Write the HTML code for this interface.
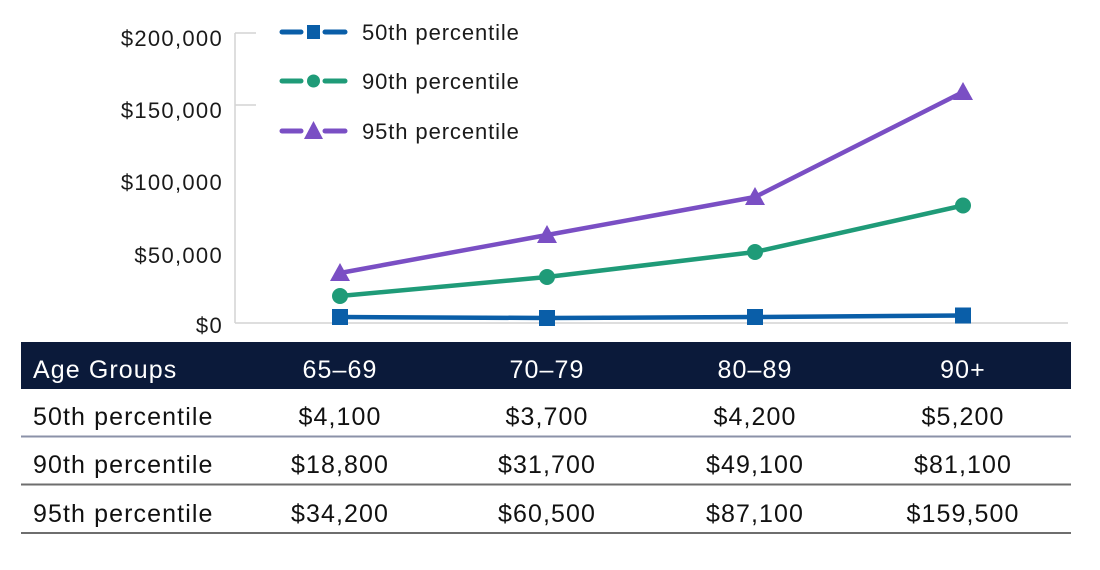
<!DOCTYPE html>
<html><head><meta charset="utf-8"><style>
body{margin:0;background:#fff;width:1100px;height:565px;overflow:hidden;font-family:"Liberation Sans",Arial,sans-serif;}
</style></head><body>
<svg width="1100" height="565" xmlns="http://www.w3.org/2000/svg" font-family="Liberation Sans, Arial, sans-serif">
<g fill="#1a1a1a" font-size="22" letter-spacing="1.3" text-anchor="end">
<text x="223" y="46">$200,000</text>
<text x="223" y="118">$150,000</text>
<text x="223" y="190">$100,000</text>
<text x="223" y="263">$50,000</text>
<text x="223" y="333">$0</text>
</g>
<g stroke="#d4d4d4" stroke-width="1.5" fill="none">
<line x1="235" y1="33" x2="235" y2="323"/>
<line x1="235" y1="323" x2="1068" y2="323"/>
<line x1="235" y1="33" x2="256" y2="33"/>
<line x1="235" y1="105" x2="256" y2="105"/>
</g>
<g fill="none" stroke-width="4.5" stroke-linejoin="round">
<polyline stroke="#0a5ea8" points="340,317 547,318 755,317 963,315.5"/>
<polyline stroke="#1f9b78" points="340,296 547,277 755,252 963,205.5"/>
<polyline stroke="#7a4fc4" points="340,273 547,235 755,197 963,92"/>
</g>
<g fill="#0a5ea8">
<rect x="332" y="309" width="16" height="16"/><rect x="539" y="310" width="16" height="16"/><rect x="747" y="309" width="16" height="16"/><rect x="955" y="307.5" width="16" height="16"/>
</g>
<g fill="#1f9b78">
<circle cx="340" cy="296" r="8"/><circle cx="547" cy="277" r="8"/><circle cx="755" cy="252" r="8"/><circle cx="963" cy="205.5" r="8"/>
</g>
<g fill="#7a4fc4">
<polygon points="340,263 330,281 350,281"/><polygon points="547,225 537,243 557,243"/><polygon points="755,187 745,205 765,205"/><polygon points="963,82 953,100 973,100"/>
</g>
<g stroke-width="5" stroke-linecap="round">
<line x1="282" y1="32" x2="301" y2="32" stroke="#0a5ea8"/><line x1="325" y1="32" x2="345" y2="32" stroke="#0a5ea8"/>
<line x1="282" y1="81" x2="301" y2="81" stroke="#1f9b78"/><line x1="325" y1="81" x2="345" y2="81" stroke="#1f9b78"/>
<line x1="282" y1="131" x2="301" y2="131" stroke="#7a4fc4"/><line x1="325" y1="131" x2="345" y2="131" stroke="#7a4fc4"/>
</g>
<rect x="307" y="25" width="13" height="14" fill="#0a5ea8"/>
<circle cx="313.5" cy="81" r="6.5" fill="#1f9b78"/>
<polygon points="313.5,121 304,139 323,139" fill="#7a4fc4"/>
<g fill="#1a1a1a" font-size="22" letter-spacing="0.9">
<text x="362" y="40">50th percentile</text>
<text x="362" y="89">90th percentile</text>
<text x="362" y="139">95th percentile</text>
</g>
<rect x="21" y="342" width="1050" height="47" fill="#0b1a3a"/>
<g font-size="25" letter-spacing="1.1">
<g fill="#fff">
<text x="33" y="378">Age Groups</text>
<g text-anchor="middle"><text x="340" y="378">65–69</text><text x="547" y="378">70–79</text><text x="755" y="378">80–89</text><text x="963" y="378">90+</text></g>
</g>
<g fill="#111">
<text x="33" y="425">50th percentile</text>
<text x="33" y="473">90th percentile</text>
<text x="33" y="522">95th percentile</text>
<g text-anchor="middle">
<text x="340" y="425">$4,100</text><text x="547" y="425">$3,700</text><text x="755" y="425">$4,200</text><text x="963" y="425">$5,200</text>
<text x="340" y="473">$18,800</text><text x="547" y="473">$31,700</text><text x="755" y="473">$49,100</text><text x="963" y="473">$81,100</text>
<text x="340" y="522">$34,200</text><text x="547" y="522">$60,500</text><text x="755" y="522">$87,100</text><text x="963" y="522">$159,500</text>
</g></g></g>
<line x1="21" y1="436.5" x2="1071" y2="436.5" stroke="#8b92a8" stroke-width="2"/>
<line x1="21" y1="484.5" x2="1071" y2="484.5" stroke="#6e6e6e" stroke-width="2"/>
<line x1="21" y1="533" x2="1071" y2="533" stroke="#6e6e6e" stroke-width="2"/>
</svg>
</body></html>
